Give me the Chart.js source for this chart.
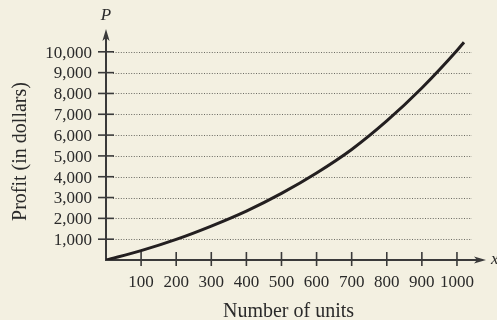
<!DOCTYPE html>
<html>
<head>
<meta charset="utf-8">
<script src="https://cdn.jsdelivr.net/npm/chart.js@4/dist/chart.umd.min.js"></script>
<style>
  html, body { margin: 0; padding: 0; background: #f3f0e1; }
  #wrap { width: 497px; height: 320px; }
</style>
</head>
<body>
<div id="wrap"><canvas id="c" width="497" height="320"></canvas></div>
<script>
// Profit curve: number of units sold vs. profit in dollars
const units  = [0, 100, 200, 300, 400, 500, 600, 700, 800, 900, 1000, 1020];
const profit = [0, 450, 990, 1630, 2350, 3200, 4180, 5310, 6680, 8260, 10060, 10460];

// Axis ticks and their labels
const xTicks = [100, 200, 300, 400, 500, 600, 700, 800, 900, 1000];
const xTickLabels = ['100', '200', '300', '400', '500', '600', '700', '800', '900', '1000'];
const yTicks = [1000, 2000, 3000, 4000, 5000, 6000, 7000, 8000, 9000, 10000];
const yTickLabels = ['1,000', '2,000', '3,000', '4,000', '5,000', '6,000', '7,000', '8,000', '9,000', '10,000'];

const xTitle = 'Number of units';
const yTitle = 'Profit (in dollars)';
const xVar = 'x';
const yVar = 'P';

const BG = '#f3f0e1';
const INK = '#3a3a3a';
const SERIF = '"Liberation Serif", "DejaVu Serif", serif';

function arrowHead(ctx, tx, ty, dir) {
  // dir: 'up' or 'right'; stealth-style filled arrowhead
  const len = 12, half = 3.6, notch = 3;
  ctx.beginPath();
  if (dir === 'up') {
    ctx.moveTo(tx, ty);
    ctx.lineTo(tx - half, ty + len);
    ctx.lineTo(tx, ty + len - notch);
    ctx.lineTo(tx + half, ty + len);
  } else {
    ctx.moveTo(tx, ty);
    ctx.lineTo(tx - len, ty - half);
    ctx.lineTo(tx - len + notch, ty);
    ctx.lineTo(tx - len, ty + half);
  }
  ctx.closePath();
  ctx.fill();
}

const axesPlugin = {
  id: 'axesPlugin',
  beforeDraw(chart) {
    const ctx = chart.ctx;
    ctx.save();
    ctx.fillStyle = BG;
    ctx.fillRect(0, 0, chart.width, chart.height);
    ctx.restore();
  },
  beforeDatasetsDraw(chart) {
    const { ctx, chartArea: a, scales: { x, y } } = chart;
    const x0 = x.getPixelForValue(0);
    const y0 = y.getPixelForValue(0);

    // dotted horizontal grid
    ctx.save();
    ctx.setLineDash([1, 1.6]);
    ctx.strokeStyle = '#6a6a62';
    ctx.lineWidth = 1;
    yTicks.forEach(v => {
      const py = Math.round(y.getPixelForValue(v)) + 0.5;
      ctx.beginPath();
      ctx.moveTo(x0 + 7, py);
      ctx.lineTo(a.right + 1, py);
      ctx.stroke();
    });
    ctx.restore();

    ctx.save();
    ctx.strokeStyle = INK;
    ctx.fillStyle = INK;
    ctx.lineWidth = 2;

    // axis lines
    const yTop = 29, xRight = 486;
    ctx.beginPath();
    ctx.moveTo(x0, y0 + 1);
    ctx.lineTo(x0, yTop + 8);
    ctx.moveTo(x0 - 1, y0);
    ctx.lineTo(xRight - 8, y0);
    ctx.stroke();
    arrowHead(ctx, x0, yTop, 'up');
    arrowHead(ctx, xRight, y0, 'right');

    // tick marks crossing the axes
    ctx.lineWidth = 1.6;
    yTicks.forEach(v => {
      const py = y.getPixelForValue(v);
      ctx.beginPath();
      ctx.moveTo(x0 - 8, py);
      ctx.lineTo(x0 + 8, py);
      ctx.stroke();
    });
    xTicks.forEach(v => {
      const px = x.getPixelForValue(v);
      ctx.beginPath();
      ctx.moveTo(px, y0 - 8);
      ctx.lineTo(px, y0 + 6);
      ctx.stroke();
    });

    // tick labels
    ctx.fillStyle = '#2a2a2a';
    ctx.font = '17px ' + SERIF;
    ctx.textAlign = 'right';
    ctx.textBaseline = 'alphabetic';
    yTicks.forEach((v, i) => {
      ctx.fillText(yTickLabels[i], x0 - 14, y.getPixelForValue(v) + 5.8);
    });
    ctx.textAlign = 'center';
    xTicks.forEach((v, i) => {
      ctx.fillText(xTickLabels[i], x.getPixelForValue(v), y0 + 26.5);
    });

    // axis titles
    ctx.font = '20px ' + SERIF;
    ctx.fillText(xTitle, (a.left + a.right) / 2, 316.5);
    ctx.save();
    ctx.translate(26, 151.5);
    ctx.rotate(-Math.PI / 2);
    ctx.fillText(yTitle, 0, 0);
    ctx.restore();

    // variable names at the arrow ends
    ctx.font = 'italic 17px ' + SERIF;
    ctx.fillText(yVar, x0, 20);
    ctx.textAlign = 'left';
    ctx.fillText(xVar, 491, y0 + 4);
    ctx.restore();
  }
};

new Chart(document.getElementById('c'), {
  type: 'line',
  data: {
    datasets: [{
      data: units.map((u, i) => ({ x: u, y: profit[i] })),
      borderColor: '#231f20',
      borderWidth: 3,
      pointRadius: 0,
      fill: false,
      cubicInterpolationMode: 'monotone',
      borderCapStyle: 'butt'
    }]
  },
  options: {
    responsive: false,
    animation: false,
    devicePixelRatio: 1,
    layout: { padding: { left: 106, right: 26, top: 31, bottom: 60 } },
    plugins: { legend: { display: false }, tooltip: { enabled: false } },
    scales: {
      x: { type: 'linear', min: 0, max: 1040, display: false },
      y: { type: 'linear', min: 0, max: 11000, display: false }
    }
  },
  plugins: [axesPlugin]
});
</script>
</body>
</html>
